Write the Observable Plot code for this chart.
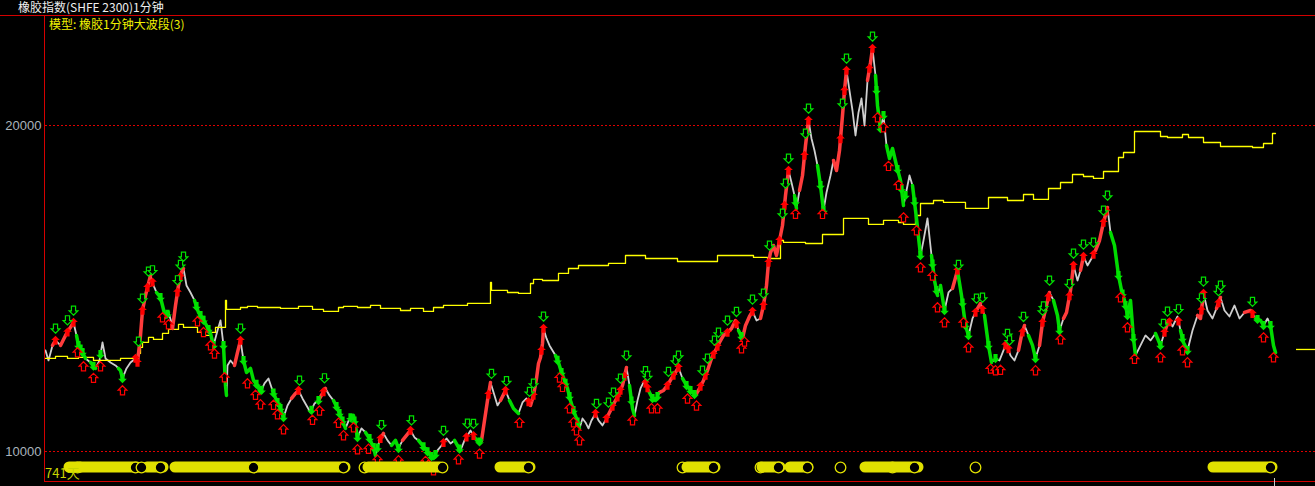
<!DOCTYPE html>
<html><head><meta charset="utf-8">
<script src="https://cdn.jsdelivr.net/npm/d3@7"></script>
<script src="https://cdn.jsdelivr.net/npm/@observablehq/plot@0.6"></script>
<style>
html,body{margin:0;padding:0;background:#000;overflow:hidden}
#wrap{position:relative;width:1315px;height:486px;background:#000}
#wrap svg{position:absolute;left:0;top:0}
.t{position:absolute;font-family:"Noto Sans CJK SC","DejaVu Sans",sans-serif;font-size:12px;line-height:14px;white-space:nowrap}
.ln{position:absolute;background:#d40000}
</style></head><body>
<div id="wrap"></div>
<script>
// ---- texts ----
const titleText = "橡胶指数(SHFE 2300)1分钟";
const modelText = "模型: 橡胶1分钟大波段(3)";
const daysText = "741天";
const yTicks = [10000, 20000];

// ---- price series (bar index, price) ----
const closes = [
[0,13100],[3,12793],[7,13253],[10,13406],[15,13253],[20,13560],[23,13713],[28,13958],[31,13560],[33,13253],
[37,13038],[40,12855],[45,12731],[50,12548],[54,12793],[57,13345],[60,12855],[65,12731],[70,12640],[75,12486],
[77,12241],[81,12548],[85,12731],[90,12855],[92,12731],[95,13560],[97,14326],[100,14787],[102,15032],[105,15400],
[108,15093],[111,14878],[115,14725],[117,14480],[120,14112],[123,14265],[126,13958],[127,13774],[130,14480],[133,15093],
[136,15492],[138,15614],[141,15093],[145,14878],[149,14633],[153,14265],[157,14081],[161,13866],[165,13621],[168,13253],
[172,13713],[175,14020],[178,13253],[180,12026],[181,11720],[182,12640],[185,12793],[189,12640],[192,13038],[195,13406],
[198,12793],[201,12425],[205,12548],[208,12180],[212,12026],[215,11812],[219,12088],[223,12241],[227,11873],[231,11566],
[235,11321],[238,11045],
[242,11413],[246,11628],[250,11781],[253,11873],[257,11628],[261,11413],[265,11198],[269,11474],[273,11566],[277,11781],
[280,11934],[284,11720],[288,11566],[292,11321],[296,11014],[300,10708],[304,11014],[308,11106],[312,10432],[316,10708],
[320,10585],[324,10401],[328,10125],[330,9879],[334,10340],[338,10555],[342,10340],[346,10186],[350,10340],[353,10094],
[357,10340],[361,10493],[365,10646],[369,10432],[373,10340],[377,10186],[381,10033],[385,9879],[388,9787],[392,10033],
[396,10186],[401,10401],[405,10247],[409,10340],[413,10125],[415,10033],[419,10340],[422,10493],[425,10646],[429,10432],
[433,10278],[436,10340],[439,10953],[442,11566],[445,12119],[449,11720],[452,11413],[455,11566],[460,11873],[464,11566],
[468,11321],[473,11168],[477,11505],[481,11628],[485,11413],
[488,11720],[491,12241],[493,12701],[495,12885],[497,13315],[498,13774],[501,13468],[504,13253],[507,13100],[510,12946],
[513,12731],[516,12425],[519,12180],[522,11934],[525,11566],[528,11260],[531,11014],[534,10708],[537,11014],[540,10892],
[543,10708],[546,10953],[550,11168],[553,10953],[557,10800],[561,11014],[565,11260],[569,11505],[573,11720],[577,12026],
[581,12578],[584,12026],[587,11321],[589,11106],[592,11566],[595,11934],[599,12180],[603,11873],[607,11628],[610,11566],
[614,11812],[618,11873],[622,12026],[626,12241],[630,12425],[633,12578],[637,12241],[641,12026],[645,11873],[650,11720],
[654,11934],[658,12180],[662,12486],[666,12855],[670,13100],[674,13345],[678,13560],[682,13652],[686,13774],[690,14020],
[693,13713],[697,13468],[700,13866],[704,14142],[707,14296],[711,14020],[715,14081],
[718,14480],[721,15093],[723,15799],[725,16105],[728,16320],[731,16013],[734,16473],[737,16933],[740,17853],[743,18620],
[746,18252],[749,17853],[751,17455],[754,18007],[757,18467],[760,19387],[763,20154],[766,19601],[769,19233],[772,18773],
[775,18160],[778,17393],[781,17945],[785,18467],[788,18927],[791,18620],[794,19233],[797,20307],[799,21073],[801,21687],
[804,21073],[807,20460],[810,19693],[813,20399],[816,20828],[819,20000],[822,21380],[825,21932],[827,22362],[830,21534],
[832,20614],[835,19908],[838,20307],[841,19387],[844,18988],[847,19295],[851,18773],[855,18313],[858,17547],[861,18007],
[864,18467],[867,18160],[871,17148],[875,16013],[878,16473],[882,17148],[886,16013],[889,15246],[892,14787],[895,15093],
[899,14326],[903,14878],[907,15001],[912,15553],[916,14787],[920,13866],[923,13560],[927,14081],[931,14326],[935,14541],
[939,14173],[943,13253],[946,12731],[950,12855],[954,12793],[958,13100],
[961,13345],[965,12946],[969,12793],[973,13100],[976,13560],[979,13866],[983,13560],[987,13253],[990,12855],[994,13253],
[997,13958],[1001,14480],[1004,14878],[1008,14633],[1012,14173],[1014,13713],[1018,14081],[1021,14265],[1025,14940],[1028,15706],
[1032,15246],[1035,15553],[1038,15983],[1042,15706],[1046,15921],[1050,16166],[1054,16473],[1058,17025],[1062,17485],[1065,16719],
[1069,16320],[1073,15400],[1076,14940],[1079,14633],[1082,14173],[1085,14633],[1088,13468],[1090,12946],[1095,13253],[1100,13560],
[1105,13406],[1110,13621],[1115,13253],[1119,13652],[1123,14020],[1127,13835],[1132,14142],[1135,13713],[1138,13345],[1142,13100],
[1147,13713],[1152,14173],[1155,14081],[1158,14848],[1162,14326],[1167,14081],[1171,14388],[1175,14725],[1179,14326],[1184,14142],
[1189,14480],[1194,14081],[1199,14265],[1205,14326],[1210,14081],[1215,14020],[1218,13866],[1222,14081],[1225,13866],[1228,13253],
[1230,13038]
];

// ---- yellow model line (bar index, level) ----
const modelLine = [
[0,12855],[10,12916],[22,12855],[33,12885],[48,12793],[75,12855],[92,13008],[95,13192],[97,13345],[103,13498],
[108,13437],[117,13621],[123,13744],[133,13897],[138,13805],[152,13652],[158,13560],[165,13652],[170,13805],[180,14633],
[181,14357],[195,14418],[202,14449],[212,14418],[235,14388],[253,14449],[267,14357],[278,14296],[293,14418],[298,14449],
[312,14418],[325,14480],[335,14388],[355,14326],[365,14388],[378,14296],[388,14418],[398,14480],[422,14541],[445,15185],
[446,14940],[462,14878],[473,14848],[485,15154],[488,15277],[497,15246],[513,15461],[523,15614],[533,15706],[563,15768],
[580,16013],[600,15921],[632,15829],[672,16013],[708,15952],[722,15921],[735,16473],[738,16412],[760,16381],[777,16657],
[798,17148],[823,16964],[838,17087],[853,17025],[858,16964],[870,17240],[875,17608],[888,17700],[898,17639],[920,17455],
[943,17792],[962,17700],[978,17884],[988,17731],[1003,18068],[1015,18252],[1027,18497],[1038,18436],[1048,18375],[1058,18589],
[1073,19019],[1078,19172],[1089,19816],[1115,19663],[1122,19632],[1137,19724],[1143,19632],[1158,19479],[1175,19356],[1207,19325],
[1218,19448],[1227,19755],[1230,19755]
];
const lastLevel = 13130;
const lastLevelSpan = [1251, 1270];

// ---- wave segments (bar index ranges) ----
const upSegs = [[7,10],[15,28],[92,105],[127,138],[189,195],[246,253],[273,280],[334,338],[357,365],[436,445],[455,460],
[485,498],[561,581],[614,633],[650,690],[697,707],[715,743],[754,763],[788,801],[822,827],[907,912],[931,935],[973,979],
[994,1004],[1018,1028],[1035,1038],[1050,1062],[1119,1123],[1152,1158],[1171,1175],[1199,1205]];
const downSegs = [[31,40],[45,50],[73,77],[111,123],[149,168],[178,181],[198,215],[227,238],[288,300],[305,312],[320,330],
[346,353],[373,388],[409,415],[429,436],[464,473],[510,534],[584,589],[603,610],[637,650],[693,697],[749,751],[772,778],
[830,835],[841,858],[867,875],[886,892],[895,899],[912,923],[939,946],[983,990],[1008,1014],[1065,1090],[1110,1115],
[1135,1142],[1210,1218],[1225,1230]];

// ---- signal markers (bar index) ----
const topSignals = [10,22,28,93,97,103,107,132,135,138,195,254,279,336,366,398,422,428,446,461,484,488,498,551,563,568,575,581,
600,602,623,630,633,657,662,669,673,682,691,707,718,724,737,740,743,760,763,797,801,827,913,931,937,962,964,978,997,998,1004,
1024,1028,1038,1048,1058,1062,1118,1122,1133,1156,1158,1173,1175,1207];
const bottomSignals = [32,38,48,55,77,117,123,152,158,165,169,179,202,210,215,228,232,238,267,274,293,298,308,312,323,332,353,
380,383,388,413,434,474,514,517,524,528,531,534,587,606,612,642,651,696,699,750,777,832,838,843,853,858,871,875,887,892,899,
918,923,945,950,955,990,1015,1075,1082,1089,1115,1137,1142,1218,1228];
const buySignals = [10,22,28,90,92,97,102,107,132,135,195,253,278,335,365,398,421,428,443,460,483,488,496,498,550,561,567,572,
575,579,600,602,622,628,633,655,660,668,672,682,691,707,718,723,734,739,743,759,763,795,799,801,824,827,912,930,937,960,963,
977,997,1003,1024,1028,1038,1048,1058,1061,1119,1124,1133,1156,1158,1173,1207];
const sellSignals = [33,35,37,48,55,77,115,122,151,155,158,163,168,178,198,211,216,228,232,235,238,266,273,291,294,297,305,309,
312,324,328,332,353,378,382,386,390,414,434,512,516,520,524,528,532,586,607,612,641,645,649,696,750,775,778,831,835,838,852,
856,860,869,875,887,891,899,917,920,923,943,950,990,1014,1073,1077,1080,1082,1088,1115,1137,1142,1212,1218,1225];

// ---- bottom signal band (bar index runs) ----
const bandRuns = [[24,35],[35,92],[102,118],[130,210],[210,300],[323,395],[455,485],[642,670],[717,735],[745,763],[820,873],[1168,1227]];
const bandRingsOver = [90,96,115,208,298,397,483,668,733,762,795,869,930,1225];
const bandRingsUnder = [35,322,640,718,850];

// ---- helpers ----
function priceAt(x) {
  if (x <= closes[0][0]) return closes[0][1];
  for (let i = 1; i < closes.length; i++) {
    const [x0, y0] = closes[i - 1], [x1, y1] = closes[i];
    if (x <= x1) return y0 + (y1 - y0) * (x - x0) / (x1 - x0);
  }
  return closes[closes.length - 1][1];
}
function segRows(ranges) {
  const rows = [];
  ranges.forEach(([a, b], k) => {
    rows.push({seg: k, x: a, y: priceAt(a)});
    closes.forEach(([x, y]) => { if (x > a && x < b) rows.push({seg: k, x, y}); });
    rows.push({seg: k, x: b, y: priceAt(b)});
  });
  return rows;
}
const upArrow = {draw(ctx, size) {
  const k = Math.sqrt(size) / 10;
  ctx.moveTo(0, -5 * k); ctx.lineTo(4.6 * k, -0.4 * k); ctx.lineTo(2.2 * k, -0.4 * k);
  ctx.lineTo(2.2 * k, 4.6 * k); ctx.lineTo(-2.2 * k, 4.6 * k); ctx.lineTo(-2.2 * k, -0.4 * k);
  ctx.lineTo(-4.6 * k, -0.4 * k); ctx.closePath();
}};
const downArrow = {draw(ctx, size) {
  const k = Math.sqrt(size) / 10;
  ctx.moveTo(0, 5 * k); ctx.lineTo(4.6 * k, 0.4 * k); ctx.lineTo(2.2 * k, 0.4 * k);
  ctx.lineTo(2.2 * k, -4.6 * k); ctx.lineTo(-2.2 * k, -4.6 * k); ctx.lineTo(-2.2 * k, 0.4 * k);
  ctx.lineTo(-4.6 * k, 0.4 * k); ctx.closePath();
}};
const R = Math.sqrt(90 / Math.PI);
const BAND = "#e0e000";

const chart = Plot.plot({
  width: 1315, height: 486,
  marginLeft: 45, marginRight: 0, marginTop: 15, marginBottom: 5,
  style: {background: "#000", color: "#fff", overflow: "visible"},
  x: {domain: [0, 1270], axis: null},
  y: {domain: [9080, 23374], axis: null},
  marks: [
    Plot.ruleY(yTicks, {stroke: "#e00000", strokeDasharray: "2,2", shapeRendering: "crispEdges"}),
    Plot.text(yTicks, {y: d => d, frameAnchor: "left", dx: -4, textAnchor: "end", text: d => String(d),
      fill: "#aab3bc", fontSize: 13, fontFamily: "Liberation Sans, Arial, sans-serif"}),
    Plot.line(closes, {x: d => d[0], y: d => d[1], stroke: "#cfcfcf", strokeWidth: 1.8}),
    Plot.line(modelLine, {x: d => d[0], y: d => d[1], curve: "step-after", stroke: "#ffff00", strokeWidth: 1.3}),
    Plot.ruleY([lastLevel], {x1: lastLevelSpan[0], x2: lastLevelSpan[1], stroke: "#ffff00", strokeWidth: 1.3}),
    Plot.line(segRows(upSegs), {x: "x", y: "y", z: "seg", stroke: "#ff3c3c", strokeWidth: 3.5}),
    Plot.line(segRows(downSegs), {x: "x", y: "y", z: "seg", stroke: "#00dc00", strokeWidth: 3.5}),
    Plot.dot(buySignals, {x: d => d, y: d => priceAt(d), symbol: upArrow, r: R, fill: "#ff0000", stroke: "none"}),
    Plot.dot(sellSignals, {x: d => d, y: d => priceAt(d), symbol: downArrow, r: R, fill: "#00e400", stroke: "none"}),
    Plot.dot(topSignals, {x: d => d, y: d => priceAt(d), dy: -12, symbol: downArrow, r: R, fill: "#000", stroke: "#00e000", strokeWidth: 1.2}),
    Plot.dot(bottomSignals, {x: d => d, y: d => priceAt(d), dy: 12, symbol: upArrow, r: R, fill: "#000", stroke: "#ff0000", strokeWidth: 1.2}),
    Plot.dot(bandRingsUnder, {x: d => d - 3, frameAnchor: "bottom", dy: -14, r: 5.3, fill: "#000", stroke: BAND, strokeWidth: 1.3}),
    Plot.rect(bandRuns, {x1: d => d[0], x2: d => d[1], insetTop: 446.5, insetBottom: 8.5, insetLeft: -5.5, insetRight: -5.5, rx: 5.5, fill: BAND}),
    Plot.dot(bandRingsOver, {x: d => d, frameAnchor: "bottom", dy: -14, r: 5.3, fill: "#000", stroke: BAND, strokeWidth: 1.3})
  ]
});

const wrap = document.getElementById("wrap");
wrap.appendChild(chart);
function addLine(l, t, w, h, c) {
  const d = document.createElement("div"); d.className = "ln";
  Object.assign(d.style, {left: l + "px", top: t + "px", width: w + "px", height: h + "px"});
  if (c) d.style.background = c;
  wrap.appendChild(d);
}
addLine(0, 15, 1315, 1);
addLine(44, 15, 1, 467);
addLine(44, 481, 1271, 1);
addLine(1274, 478, 1, 8, "#c8c8c8");
function addText(txt, l, t, color, size) {
  const d = document.createElement("div"); d.className = "t"; d.textContent = txt;
  Object.assign(d.style, {left: l + "px", top: t + "px", color});
  if (size) d.style.fontSize = size + "px";
  wrap.appendChild(d);
}
addText(titleText, 18, 0, "#eeeeee");
addText(modelText, 49, 17, "#f0f000");
addText(daysText, 45, 466, "#c8d400", 13);
</script>
</body></html>
